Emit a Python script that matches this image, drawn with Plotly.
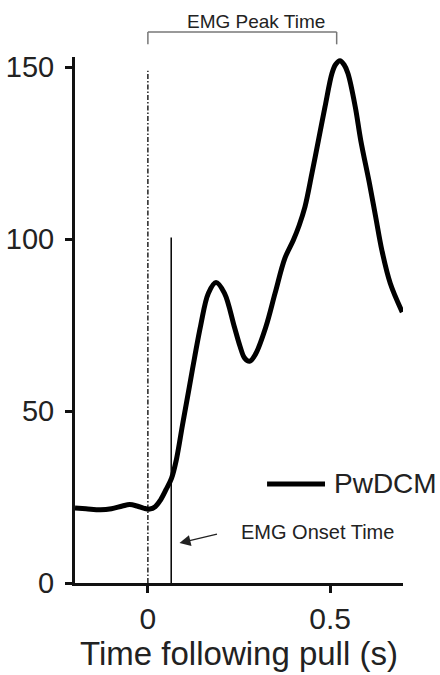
import plotly.graph_objects as go

# ---- data ----
time_s = [-0.2, -0.17, -0.13, -0.1, -0.07, -0.05, -0.03, -0.01, 0.005, 0.02, 0.035,
          0.05, 0.065, 0.078, 0.095, 0.112, 0.128, 0.145, 0.166, 0.187, 0.21, 0.237,
          0.253, 0.265, 0.279, 0.295, 0.324, 0.349, 0.376, 0.399, 0.415, 0.431, 0.45,
          0.468, 0.486, 0.505, 0.515, 0.527, 0.538, 0.549, 0.569, 0.584, 0.608, 0.625,
          0.642, 0.665, 0.698]
emg_pwdcm = [21.8, 21.6, 21.3, 21.6, 22.4, 22.8, 22.4, 21.7, 21.5, 22.2, 24.2,
             27.2, 30.5, 35.8, 46.0, 56.0, 65.5, 75.0, 84.3, 87.4, 84.3, 74.6,
             68.8, 65.5, 64.5, 66.5, 74.6, 84.3, 94.5, 99.7, 104.0, 109.4, 119.1,
             128.8, 138.5, 148.2, 150.8, 151.9, 150.8, 148.2, 138.5, 128.8, 116.2, 106.5,
             96.8, 87.2, 78.8]

series_name = "PwDCM"
pull_time = 0.0
pull_line_top = 149
onset_time = 0.064
onset_line_top = 100.5
peak_time = 0.518

x_ticks = [0, 0.5]
x_tick_labels = ["0", "0.5"]
y_ticks = [0, 50, 100, 150]
y_tick_labels = ["0", "50", "100", "150"]

FONT = "Liberation Sans, Arial, Helvetica, sans-serif"
TXT = "#222222"

fig = go.Figure()

fig.add_trace(go.Scatter(x=time_s, y=emg_pwdcm, mode="lines", name=series_name,
                         line=dict(color="black", width=5, shape="spline", smoothing=1.0),
                         showlegend=False))
fig.add_trace(go.Scatter(x=[pull_time, pull_time], y=[0, pull_line_top], mode="lines",
                         line=dict(color="black", width=1.3, dash="5px,2px,1.5px,2px"),
                         showlegend=False))
fig.add_trace(go.Scatter(x=[onset_time, onset_time], y=[0, onset_line_top], mode="lines",
                         line=dict(color="black", width=1.5), showlegend=False))

shapes = []
# bracket for EMG peak time
br_top = 1.0475
br_bot = 1.0241
gray = "#777777"
shapes.append(dict(type="line", xref="x", yref="paper", x0=pull_time, x1=peak_time,
                   y0=br_top, y1=br_top, line=dict(color=gray, width=1.5)))
shapes.append(dict(type="line", xref="x", yref="paper", x0=pull_time, x1=pull_time,
                   y0=br_top, y1=br_bot, line=dict(color=gray, width=1.5)))
shapes.append(dict(type="line", xref="x", yref="paper", x0=peak_time, x1=peak_time,
                   y0=br_top, y1=br_bot, line=dict(color=gray, width=1.5)))
# legend sample line
shapes.append(dict(type="line", xref="x", yref="y", x0=0.327, x1=0.486,
                   y0=28.8, y1=28.8, line=dict(color="black", width=5)))

annotations = [
    dict(x=0.2965, y=1.067, xref="x", yref="paper", text="EMG Peak Time",
         showarrow=False, xanchor="center", yanchor="middle",
         font=dict(family=FONT, size=19, color=TXT)),
    dict(x=0.505, y=28.8, xref="x", yref="y", text=series_name, showarrow=False,
         xanchor="left", yanchor="middle", font=dict(family=FONT, size=28, color=TXT)),
    dict(x=0.249, y=14.9, xref="x", yref="y", text="EMG Onset Time", showarrow=False,
         xanchor="left", yanchor="middle", font=dict(family=FONT, size=20, color=TXT)),
    dict(x=0.0867, y=11.6, ax=0.1937, ay=14.3, xref="x", yref="y", axref="x", ayref="y",
         text="", showarrow=True, arrowhead=2, arrowsize=1.7, arrowwidth=1.3,
         arrowcolor="#222222", standoff=0),
]

fig.update_layout(
    width=440, height=675,
    margin=dict(l=75, r=37, t=56.7, b=91.7, pad=0),
    plot_bgcolor="white", paper_bgcolor="white",
    font=dict(family=FONT, color=TXT),
    shapes=shapes, annotations=annotations,
    showlegend=False,
)
fig.update_xaxes(range=[-0.2, 0.7], tickvals=x_ticks, ticktext=x_tick_labels,
                 showgrid=False, zeroline=False, showline=True, linecolor="#111111",
                 linewidth=3, ticks="outside", ticklen=7, tickwidth=3, tickcolor="#111111",
                 tickfont=dict(family=FONT, size=30, color=TXT), ticklabelstandoff=0,
                 title=dict(text="Time following pull (s)", standoff=6,
                            font=dict(family=FONT, size=33, color=TXT)),
                 automargin=False)
fig.update_yaxes(range=[0, 153], tickvals=y_ticks, ticktext=y_tick_labels,
                 showgrid=False, zeroline=False, showline=True, linecolor="#111111",
                 linewidth=3, ticks="outside", ticklen=7, tickwidth=3, tickcolor="#111111",
                 tickfont=dict(family=FONT, size=29, color=TXT), ticklabelstandoff=5,
                 automargin=False)

fig.write_html("out.html")
